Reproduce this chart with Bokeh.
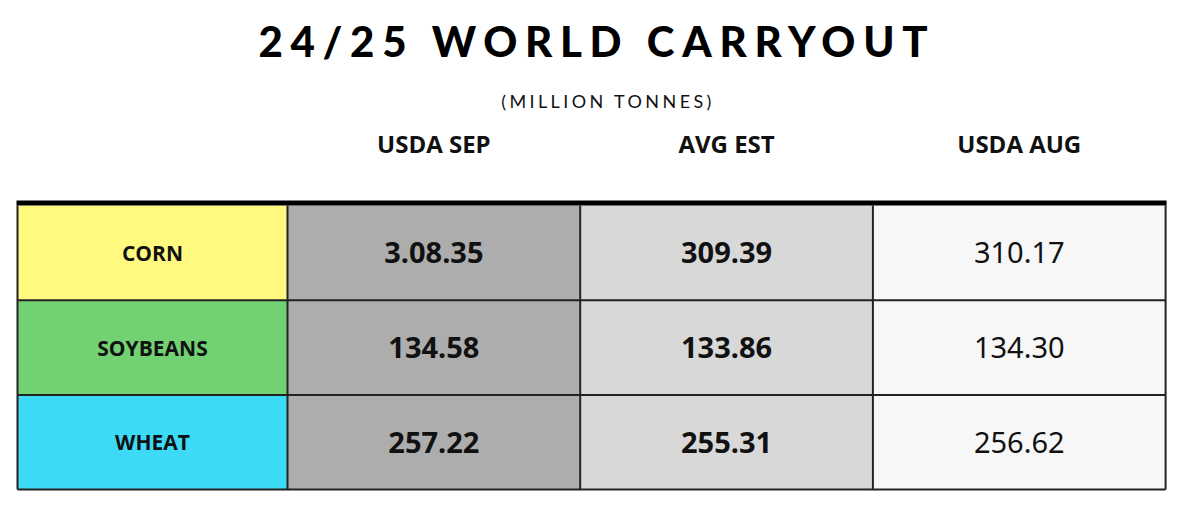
from bokeh.plotting import figure
from bokeh.models import Range1d, Div
from bokeh.layouts import column
from bokeh.embed import file_html
from bokeh.resources import INLINE
from bokeh.core.properties import value

# ---- data ----
title_text = "24/25 WORLD CARRYOUT"
subtitle_text = "(MILLION TONNES)"
columns = ["USDA SEP", "AVG EST", "USDA AUG"]
commodities = ["CORN", "SOYBEANS", "WHEAT"]
usda_sep = ["3.08.35", "134.58", "257.22"]
avg_est = ["309.39", "133.86", "255.31"]
usda_aug = ["310.17", "134.30", "256.62"]

# ---- styles / layout ----
row_colors = ["#FFF980", "#72D173", "#3CDAF7"]
col_colors = ["#ADADAD", "#D8D8D8", "#F7F7F7"]
col_styles = ["bold", "bold", "normal"]

W, H = 1170, 493
DIV_H = 118
TABLE_LEFT = 17
LABEL_W = 270
COL_W = 292.7
TABLE_TOP = 205
ROW_H = 94.7
HEADER_Y = 143

div = Div(
    text=(
        '<div style="position:relative;width:1170px;height:118px;">'
        '<div style="position:absolute;left:0;top:20px;width:1186px;text-align:center;'
        'font-family:Lato;font-weight:900;font-size:42px;line-height:42px;'
        'letter-spacing:7.7px;padding-left:7.7px;box-sizing:border-box;color:#000;">'
        + title_text + '</div>'
        '<div style="position:absolute;left:0;top:92px;width:1186px;text-align:center;'
        'font-family:Lato;font-weight:400;font-size:18px;line-height:18px;'
        'letter-spacing:3.4px;padding-left:30px;box-sizing:border-box;color:#111;">'
        + subtitle_text + '</div>'
        '</div>'
    ),
    width=W, height=DIV_H, margin=(0, 0, 0, 0),
)

p = figure(width=W, height=H - DIV_H, output_backend="svg", toolbar_location=None,
           x_range=Range1d(0, W), y_range=Range1d(H, DIV_H),
           min_border=0, outline_line_color=None, margin=(0, 0, 0, 0))
p.axis.visible = False
p.grid.visible = False
p.background_fill_color = "white"
p.border_fill_color = "white"

n_rows = len(commodities)
col_left = [TABLE_LEFT + LABEL_W + i * COL_W for i in range(len(columns))]
col_right = [l + COL_W for l in col_left]
col_center = [(l + r) / 2 for l, r in zip(col_left, col_right)]
row_top = [TABLE_TOP + i * ROW_H for i in range(n_rows)]
row_bot = [t + ROW_H for t in row_top]
row_center = [(t + b) / 2 for t, b in zip(row_top, row_bot)]
table_right = col_right[-1]

# header labels
p.text(x=col_center, y=[HEADER_Y] * len(columns), text=columns,
       text_font=value("Open Sans"), text_font_style="bold", text_font_size="24px",
       text_align="center", text_baseline="middle", text_color="#111111")

# label cells
p.quad(left=[TABLE_LEFT] * n_rows, right=[TABLE_LEFT + LABEL_W] * n_rows,
       top=row_top, bottom=row_bot, fill_color=row_colors, line_color=None)
p.text(x=[TABLE_LEFT + LABEL_W / 2] * n_rows, y=row_center, text=commodities,
       text_font=value("Open Sans"), text_font_style="bold", text_font_size="21px",
       text_align="center", text_baseline="middle", text_color="#111111")

# value cells
series = [usda_sep, avg_est, usda_aug]
for ci, vals in enumerate(series):
    p.quad(left=[col_left[ci]] * n_rows, right=[col_right[ci]] * n_rows,
           top=row_top, bottom=row_bot, fill_color=col_colors[ci], line_color=None)
    p.text(x=[col_center[ci]] * n_rows, y=row_center, text=vals,
           text_font=value("Noto Sans"), text_font_style=col_styles[ci],
           text_font_size="29px", text_align="center", text_baseline="middle",
           text_color="#111111")

# grid lines
hy = row_bot
p.segment(x0=[TABLE_LEFT] * n_rows, y0=hy, x1=[table_right] * n_rows, y1=hy,
          line_color="#222222", line_width=2)
vx = [TABLE_LEFT, TABLE_LEFT + LABEL_W] + col_right
p.segment(x0=vx, y0=[TABLE_TOP] * len(vx), x1=vx, y1=[row_bot[-1]] * len(vx),
          line_color="#222222", line_width=2)
# thick top rule
p.segment(x0=[TABLE_LEFT - 1], y0=[TABLE_TOP - 2.5], x1=[table_right + 1], y1=[TABLE_TOP - 2.5],
          line_color="#000000", line_width=5)

layout = column(div, p, spacing=0, margin=(0, 0, 0, 0))
open("out.html", "w").write(file_html(layout, INLINE))
